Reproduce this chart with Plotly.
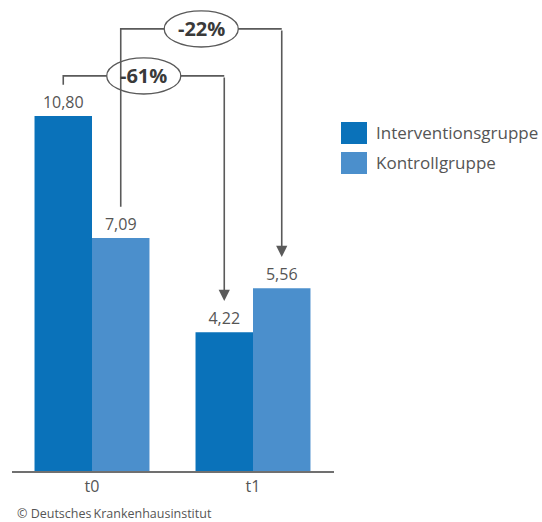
import plotly.graph_objects as go

# Data
times = ["t0", "t1"]
intervention = [10.80, 4.22]
control = [7.09, 5.56]
group_names = ["Interventionsgruppe", "Kontrollgruppe"]
group_colors = ["#0a72ba", "#4b8fcc"]
source_note = "© Deutsches\u2009Krankenhausinstitut"

W, H = 542, 522
FONT = "Open Sans"
TEXT_GREY = "#555555"
LINE_GREY = "#5a5a5a"


def de(v):
    return f"{v:.2f}".replace(".", ",")


def pct_change(a, b):
    return f"{round((b - a) / a * 100):d}%"


fig = go.Figure()
for name, vals, col in zip(group_names, [intervention, control], group_colors):
    fig.add_trace(go.Bar(
        x=times, y=vals, name=name, marker=dict(color=col, line=dict(width=0)),
        text=[de(v) for v in vals], textposition="outside", cliponaxis=False,
        textfont=dict(family=FONT, size=16, color=TEXT_GREY),
        showlegend=False,
    ))

bargap = 0.286
half = (1 - bargap) / 4  # offset of each bar centre from the category centre

shapes = []
annotations = []

pad = 0.95      # gap between a bar value and bracket end / arrow tip
ell_rx, ell_ry = 0.23, 0.55


def bracket(x_from, v_from, x_to, v_to, y_h, label):
    y_start = v_from + pad
    y_tip = v_to + pad
    shapes.append(dict(type="path", xref="x", yref="y",
                       path=f"M {x_from},{y_start} L {x_from},{y_h} L {x_to},{y_h}",
                       line=dict(color=LINE_GREY, width=1.6)))
    annotations.append(dict(x=x_to, y=y_tip, ax=x_to, ay=y_h, xref="x", yref="y",
                            axref="x", ayref="y", text="", showarrow=True,
                            arrowhead=2, arrowsize=1.4, arrowwidth=1.6,
                            arrowcolor=LINE_GREY, standoff=0))
    mid = (x_from + x_to) / 2
    shapes.append(dict(type="circle", xref="x", yref="y",
                       x0=mid - ell_rx, x1=mid + ell_rx,
                       y0=y_h - ell_ry, y1=y_h + ell_ry,
                       fillcolor="white", line=dict(color=LINE_GREY, width=1.3)))
    annotations.append(dict(x=mid, y=y_h, xref="x", yref="y", text=f"<b>{label}</b>",
                            showarrow=False, font=dict(family=FONT, size=20, color="#3a3a3a")))


# Intervention group t0 -> t1, then control group t0 -> t1
bracket(0 - half, intervention[0], 1 - half, intervention[1], 12.02,
        pct_change(intervention[0], intervention[1]))
bracket(0 + half, control[0], 1 + half, control[1], 13.45,
        pct_change(control[0], control[1]))

# Legend drawn as large swatches with labels
for i, (name, col) in enumerate(zip(group_names, group_colors)):
    top = 122 + i * 30
    shapes.append(dict(type="rect", xref="paper", yref="paper",
                       x0=341 / W, x1=367 / W, y0=1 - (top + 22) / H, y1=1 - top / H,
                       fillcolor=col, line=dict(width=0)))
    annotations.append(dict(x=374 / W, y=1 - (top + 11) / H, xref="paper", yref="paper",
                            text=name, showarrow=False, xanchor="left", yanchor="middle",
                            font=dict(family=FONT, size=17, color=TEXT_GREY)))

annotations.append(dict(x=15 / W, y=1 - 513 / H, xref="paper", yref="paper",
                        text=source_note, showarrow=False, xanchor="left", yanchor="middle",
                        font=dict(family=FONT, size=12.5, color=TEXT_GREY)))

px_per_unit = 32.87
base_px = 471
fig.update_layout(
    width=W, height=H,
    margin=dict(l=0, r=0, t=0, b=0),
    paper_bgcolor="white", plot_bgcolor="white",
    barmode="group", bargap=bargap, bargroupgap=0,
    xaxis=dict(type="category", range=[-0.5, 1.5], domain=[11.5 / W, 333.5 / W],
               showline=True, linecolor="#707070", linewidth=2, ticks="",
               showgrid=False, zeroline=False,
               tickfont=dict(family=FONT, size=16, color=TEXT_GREY)),
    yaxis=dict(visible=False, range=[0, base_px / px_per_unit],
               domain=[(H - base_px) / H, 1], showgrid=False),
    shapes=shapes, annotations=annotations,
    font=dict(family=FONT),
)

fig.write_html("out.html")
